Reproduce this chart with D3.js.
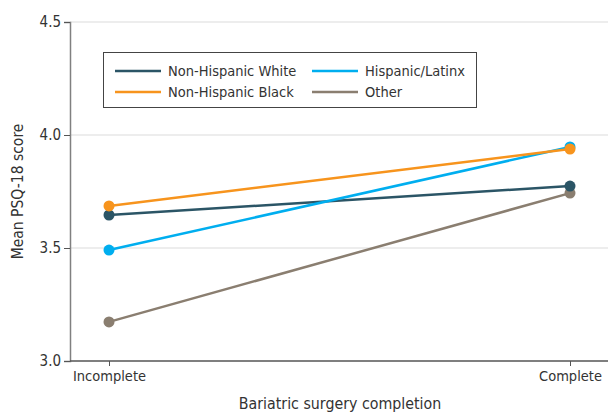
<!DOCTYPE html>
<html><head><meta charset="utf-8">
<script src="https://cdn.jsdelivr.net/npm/d3@7"></script>
<style>
body{margin:0;background:#fff;}
text{font-family:"Liberation Sans Narrow","DejaVu Sans Condensed","Roboto",sans-serif;fill:#333;}
</style></head>
<body><svg id="c" width="608" height="412"></svg>
<script>
const categories = ["Incomplete", "Complete"];
const seriesNames = ["Non-Hispanic White", "Hispanic/Latinx", "Non-Hispanic Black", "Other"];
const whiteVals = [3.646, 3.774];
const hispanicVals = [3.491, 3.947];
const blackVals = [3.686, 3.938];
const otherVals = [3.173, 3.743];
const yTicks = [3.0, 3.5, 4.0, 4.5];
const colors = ["#2b5566", "#00aeef", "#f7941d", "#8a7e70"];

const series = [
  {name: seriesNames[0], values: whiteVals, color: colors[0]},
  {name: seriesNames[1], values: hispanicVals, color: colors[1]},
  {name: seriesNames[2], values: blackVals, color: colors[2]},
  {name: seriesNames[3], values: otherVals, color: colors[3]}
];

const svg = d3.select("#c");
const L = 70, R = 608, T = 22, B = 361;
const x = d3.scalePoint().domain(categories).range([109, 570]);
const y = d3.scaleLinear().domain([3.0, 4.5]).range([B, T]);
const FF = '"Liberation Sans Narrow","DejaVu Sans Condensed",sans-serif';

// gridlines
svg.append("g").selectAll("line").data(yTicks.slice(1)).join("line")
  .attr("x1", L).attr("x2", R).attr("y1", d => y(d)).attr("y2", d => y(d))
  .attr("stroke", "#dcdcdc").attr("stroke-width", 1.2);

// y axis
const ya = svg.append("g").attr("transform", `translate(${L},0)`)
  .call(d3.axisLeft(y).tickValues(yTicks).tickFormat(d3.format(".1f")).tickSize(6).tickPadding(3));
ya.select(".domain").attr("stroke", "#808080").attr("stroke-width", 1.5);
ya.selectAll(".tick line").attr("stroke", "#555");
ya.selectAll("text").attr("font-size", 15).style("font-family", FF).attr("fill", "#333");

// x axis
const xa = svg.append("g").attr("transform", `translate(0,${B})`)
  .call(d3.axisBottom(x).tickSize(5).tickPadding(5).tickSizeOuter(0));
xa.select(".domain").attr("d", `M${L},0H${R}`).attr("stroke", "#555").attr("stroke-width", 1.5);
xa.selectAll(".tick line").attr("stroke", "#555");
xa.selectAll("text").attr("font-size", 14.5).style("font-family", FF).attr("fill", "#333");

// axis titles
svg.append("text").attr("transform", `translate(23,${(T + B) / 2}) rotate(-90)`)
  .attr("text-anchor", "middle").attr("font-size", 15.5).text("Mean PSQ-18 score");
svg.append("text").attr("x", 340).attr("y", 409).attr("text-anchor", "middle")
  .attr("font-size", 15.8).text("Bariatric surgery completion");

// lines & points
const line = d3.line().x((d, i) => x(categories[i])).y(d => y(d));
const order = [3, 0, 1, 2];
order.forEach(k => {
  const s = series[k];
  svg.append("path").datum(s.values).attr("d", line)
    .attr("fill", "none").attr("stroke", s.color).attr("stroke-width", 2.5);
});
order.forEach(k => {
  const s = series[k];
  svg.append("g").selectAll("circle").data(s.values).join("circle")
    .attr("cx", (d, i) => x(categories[i])).attr("cy", d => y(d)).attr("r", 5.5)
    .attr("fill", s.color);
});

// legend
const lg = svg.append("g");
lg.append("rect").attr("x", 103.5).attr("y", 52.5).attr("width", 373).attr("height", 55)
  .attr("fill", "#fff").attr("stroke", "#444").attr("stroke-width", 1);
const pos = [[115, 71], [312, 71], [115, 92], [312, 92]];
series.forEach((s, i) => {
  const [lx, ly] = pos[i];
  lg.append("line").attr("x1", lx).attr("x2", lx + 46).attr("y1", ly).attr("y2", ly)
    .attr("stroke", s.color).attr("stroke-width", 2.5);
  lg.append("text").attr("x", lx + 53).attr("y", ly + 5).attr("font-size", 14.5).text(s.name);
});
</script></body></html>
